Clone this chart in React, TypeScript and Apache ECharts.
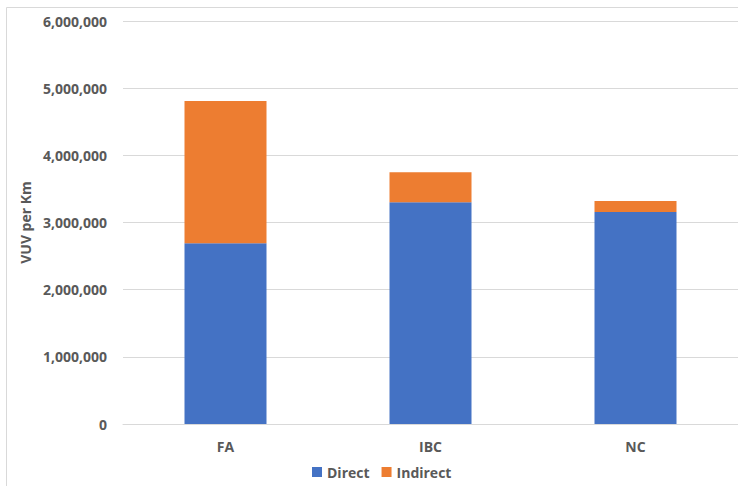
import React, { useEffect, useRef } from "react";
import * as echarts from "echarts";

const categories = ["FA", "IBC", "NC"];
const directValues = [2690000, 3300000, 3155000];
const indirectValues = [2120000, 450000, 165000];
const yTicks = { min: 0, max: 6000000, interval: 1000000 };

export default function App() {
  const ref = useRef<HTMLDivElement>(null);
  useEffect(() => {
    const chart = echarts.init(ref.current!, null, { renderer: "svg" });
    const font = "'Open Sans', Calibri, sans-serif";
    chart.setOption({
      animation: false,
      backgroundColor: "#ffffff",
      grid: { left: 123, right: 0, top: 21, bottom: 62 },
      graphic: [
        {
          type: "rect",
          shape: { x: 6.5, y: 7.5, width: 800, height: 600 },
          style: { fill: "none", stroke: "#D9D9D9", lineWidth: 1 },
          silent: true,
        },
      ],
      legend: {
        top: 465,
        left: 312,
        padding: 0,
        itemWidth: 10,
        itemHeight: 10,
        itemGap: 12,
        icon: "rect",
        textStyle: { color: "#595959", fontSize: 14, fontWeight: "bold", fontFamily: font },
        data: ["Direct", "Indirect"],
      },
      xAxis: {
        type: "category",
        data: categories,
        axisLine: { lineStyle: { color: "#D9D9D9" } },
        axisTick: { show: false },
        axisLabel: { color: "#595959", fontSize: 14, fontWeight: "bold", fontFamily: font, margin: 15 },
      },
      yAxis: {
        type: "value",
        min: yTicks.min,
        max: yTicks.max,
        interval: yTicks.interval,
        name: "VUV per Km",
        nameLocation: "middle",
        nameGap: 82,
        nameRotate: 90,
        nameTextStyle: { color: "#595959", fontSize: 14, fontWeight: "bold", fontFamily: font },
        axisLine: { show: false },
        axisTick: { show: false },
        splitLine: { lineStyle: { color: "#D9D9D9" } },
        axisLabel: {
          color: "#595959",
          fontSize: 14,
          fontWeight: "bold",
          fontFamily: font,
          margin: 16,
          formatter: (v: number) => v.toLocaleString("en-US"),
        },
      },
      series: [
        {
          name: "Direct",
          type: "bar",
          stack: "total",
          barWidth: "40%",
          itemStyle: { color: "#4472C4" },
          data: directValues,
        },
        {
          name: "Indirect",
          type: "bar",
          stack: "total",
          barWidth: "40%",
          itemStyle: { color: "#ED7D31" },
          data: indirectValues,
        },
      ],
    });
    return () => chart.dispose();
  }, []);
  return (
    <div
      ref={ref}
      style={{ position: "absolute", left: 0, top: 0, width: 738, height: 486 }}
    />
  );
}
